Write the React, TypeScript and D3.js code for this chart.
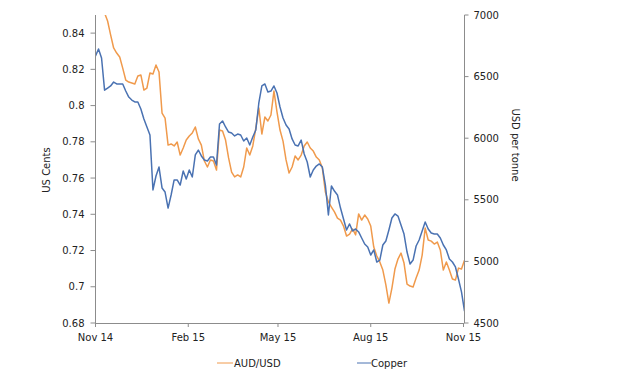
import React from "react";
import * as d3 from "d3";

// Sampled every 3 days from 1 Nov 2014
const dates: Date[] = d3.timeDay.range(new Date(2014, 10, 1), new Date(2015, 10, 3), 3);

const audUsd = [
  0.8638, 0.8605, 0.8561, 0.8511, 0.8467, 0.839, 0.8318, 0.829, 0.8268, 0.8207,
  0.8141, 0.813, 0.8125, 0.8119, 0.8163, 0.8169, 0.8086, 0.8097, 0.818, 0.8174,
  0.8224, 0.8185, 0.7959, 0.7931, 0.7782, 0.7788, 0.7777, 0.7799, 0.7727, 0.7766,
  0.781, 0.7832, 0.7849, 0.7882, 0.7816, 0.7782, 0.7694, 0.7661, 0.77, 0.7694,
  0.7644, 0.7865, 0.786, 0.781, 0.7711, 0.7633, 0.7606, 0.7617, 0.7606, 0.7661,
  0.7766, 0.7727, 0.7777, 0.7876, 0.7987, 0.7843, 0.7937, 0.7915, 0.7948, 0.808,
  0.7965, 0.7865, 0.7804, 0.77, 0.7628, 0.7661, 0.7722, 0.77, 0.7727, 0.7777,
  0.7799, 0.7766, 0.7749, 0.7716, 0.77, 0.7655, 0.7523, 0.7468, 0.744, 0.7413,
  0.7379, 0.7368, 0.7335, 0.728, 0.7291, 0.7319, 0.7286, 0.7402, 0.7368, 0.7396,
  0.7374, 0.7335, 0.7219, 0.717, 0.7137, 0.7092, 0.701, 0.691, 0.6993, 0.7098,
  0.7153, 0.7186, 0.7131, 0.7015, 0.7004, 0.6999, 0.7048, 0.7092, 0.7175, 0.7324,
  0.7258, 0.7252, 0.7236, 0.7247, 0.7203, 0.7092, 0.7137, 0.7092, 0.7043, 0.7037,
  0.7103, 0.7098, 0.7147,
];

const copper = [
  6667, 6724, 6651, 6390, 6407, 6424, 6456, 6440, 6440, 6440,
  6383, 6334, 6310, 6294, 6294, 6237, 6156, 6091, 6026, 5580,
  5693, 5766, 5596, 5563, 5433, 5539, 5661, 5661, 5620, 5734,
  5669, 5742, 5685, 5864, 5904, 5856, 5823, 5815, 5847, 5847,
  5782, 6115, 6140, 6091, 6050, 6042, 6018, 6034, 6026, 5977,
  6002, 5945, 6010, 6067, 6286, 6424, 6440, 6375, 6383, 6424,
  6367, 6253, 6164, 6107, 6075, 5994, 5945, 5937, 5985, 5872,
  5807, 5685, 5742, 5774, 5791, 5766, 5620, 5377, 5612, 5571,
  5539, 5433, 5344, 5255, 5304, 5247, 5263, 5239, 5190, 5141,
  5117, 5052, 5093, 4995, 5011, 5133, 5166, 5255, 5352, 5385,
  5368, 5295, 5222, 5076, 4979, 5011, 5125, 5174, 5247, 5320,
  5263, 5230, 5222, 5222, 5190, 5133, 5093, 5019, 4995, 4955,
  4857, 4752, 4597,
];

const leftTicks = [0.68, 0.7, 0.72, 0.74, 0.76, 0.78, 0.8, 0.82, 0.84];
const rightTicks = [4500, 5000, 5500, 6000, 6500, 7000];
const xTickDates = [
  new Date(2014, 10, 1),
  new Date(2015, 1, 1),
  new Date(2015, 4, 1),
  new Date(2015, 7, 1),
  new Date(2015, 10, 1),
];
const xTickLabels = ["Nov 14", "Feb 15", "May 15", "Aug 15", "Nov 15"];
const seriesNames = ["AUD/USD", "Copper"];

const ORANGE = "#F09A4C";
const BLUE = "#4A72B2";
const AXIS = "#8c8c8c";
const TEXT = "#222";
const FONT = "DejaVu Sans, Verdana, sans-serif";

export default function App() {
  const W = 625;
  const H = 373;
  const left = 95.5;
  const right = 464.5;
  const top = 15;
  const bottom = 323;

  const x = d3
    .scaleTime()
    .domain([new Date(2014, 10, 1), new Date(2015, 10, 1)])
    .range([left, right - 1]);
  const yL = d3.scaleLinear().domain([0.68, 0.85]).range([bottom, top]);
  const yR = d3.scaleLinear().domain([4500, 7000]).range([bottom, top]);

  const audLine = d3
    .line<number>()
    .x((_, i) => x(dates[i]))
    .y((d) => yL(d));
  const cuLine = d3
    .line<number>()
    .x((_, i) => x(dates[i]))
    .y((d) => yR(d));

  return (
    <svg
      width={W}
      height={H}
      style={{ position: "absolute", left: 0, top: 0, background: "#fff" }}
      fontFamily={FONT}
    >
      <defs>
        <clipPath id="plot">
          <rect x={left} y={top} width={right - left} height={bottom - top} />
        </clipPath>
      </defs>
      <rect width={W} height={H} fill="#fff" />

      {/* series */}
      <g clipPath="url(#plot)" fill="none" strokeWidth={1.5} strokeLinejoin="round">
        <path d={audLine(audUsd) || ""} stroke={ORANGE} />
        <path d={cuLine(copper) || ""} stroke={BLUE} />
      </g>

      {/* left axis */}
      <line x1={left} x2={left} y1={top} y2={bottom} stroke={AXIS} />
      {leftTicks.map((t) => (
        <g key={"l" + t}>
          <line x1={left - 5} x2={left} y1={yL(t)} y2={yL(t)} stroke={AXIS} />
          <text
            x={left - 11}
            y={yL(t)}
            dy="0.35em"
            textAnchor="end"
            fontSize={10}
            fill={TEXT}
          >
            {String(t)}
          </text>
        </g>
      ))}

      {/* right axis */}
      <line x1={right} x2={right} y1={top} y2={bottom} stroke={AXIS} />
      {rightTicks.map((t) => (
        <g key={"r" + t}>
          <line x1={right} x2={right + 4} y1={yR(t)} y2={yR(t)} stroke={AXIS} />
          <text x={right + 9} y={yR(t)} dy="0.35em" fontSize={10} fill={TEXT}>
            {String(t)}
          </text>
        </g>
      ))}

      {/* bottom axis */}
      <line x1={left} x2={right} y1={bottom + 0.5} y2={bottom + 0.5} stroke={AXIS} />
      {xTickDates.map((d, i) => (
        <g key={"x" + i}>
          <line x1={x(d)} x2={x(d)} y1={bottom} y2={bottom + 4} stroke={AXIS} />
          <text x={x(d)} y={341} textAnchor="middle" fontSize={10} fill={TEXT}>
            {xTickLabels[i]}
          </text>
        </g>
      ))}

      {/* axis titles */}
      <text
        transform="translate(50,170) rotate(-90)"
        textAnchor="middle"
        fontSize={10}
        fill={TEXT}
      >
        US Cents
      </text>
      <text
        transform="translate(512,145) rotate(90)"
        textAnchor="middle"
        fontSize={10}
        fill={TEXT}
      >
        USD per tonne
      </text>

      {/* legend */}
      <line x1={217} x2={233} y1={363} y2={363} stroke={ORANGE} strokeWidth={1} />
      <text x={234} y={363} dy="0.35em" fontSize={10} fill={TEXT}>
        {seriesNames[0]}
      </text>
      <line x1={357} x2={371} y1={363} y2={363} stroke={BLUE} strokeWidth={1} />
      <text x={371} y={363} dy="0.35em" fontSize={10} fill={TEXT}>
        {seriesNames[1]}
      </text>
    </svg>
  );
}
